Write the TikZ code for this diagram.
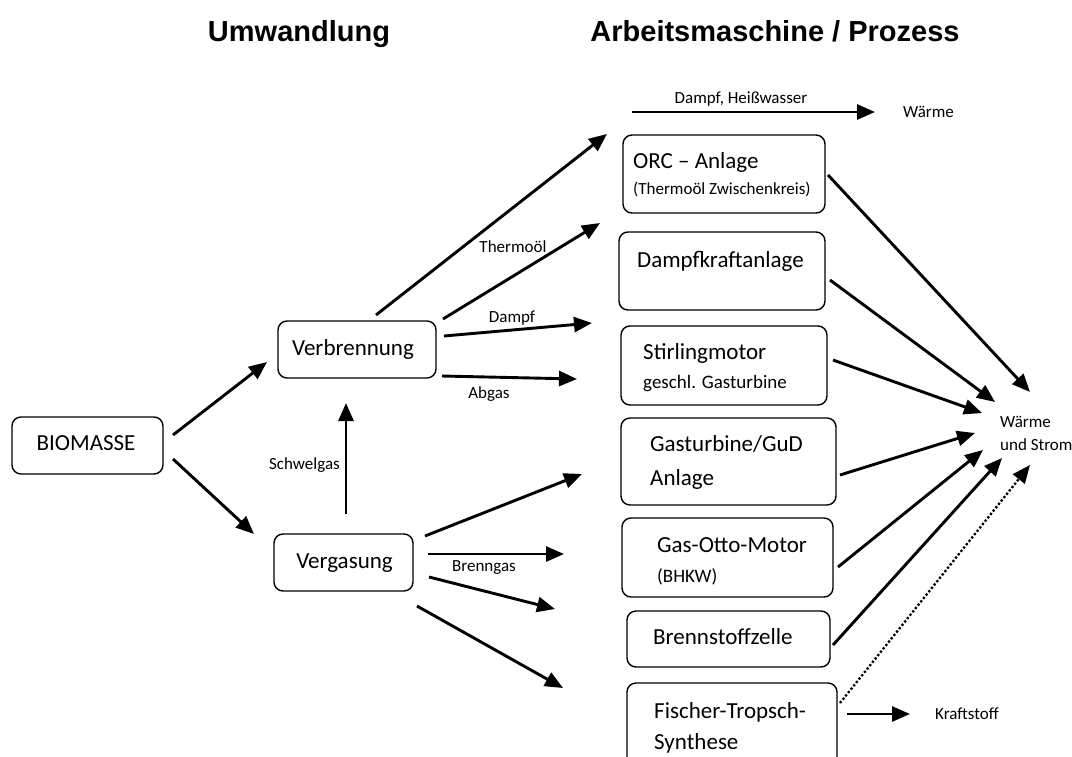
\documentclass[tikz,border=0pt]{standalone}
\usepackage{fontspec}
\setmainfont{Carlito}
\newfontfamily\arialfont{Liberation Sans}
\usetikzlibrary{arrows.meta}
\begin{document}
\begin{tikzpicture}[x=1pt,y=-1pt,
  box/.style={draw, rounded corners=9pt, line width=1.4pt, inner sep=0pt},
  big/.style={font=\fontsize{23}{27}\selectfont, inner sep=0pt},
  med/.style={font=\fontsize{19}{22}\selectfont, inner sep=0pt},
  small/.style={font=\fontsize{17}{20}\selectfont, inner sep=0pt},
  ttl/.style={font=\arialfont\bfseries\fontsize{29}{34}\selectfont, inner sep=0pt},
  arr/.style={line width=2.9pt, -{Triangle[length=18pt,width=15pt]}},
  dotarr/.style={line width=2.3pt, dash pattern=on 2.3pt off 2pt, -{Triangle[length=18pt,width=15pt]}}
]
\useasboundingbox (0,0) rectangle (1072,756);
\clip (0,0) rectangle (1072,756);
\fill[white] (0,0) rectangle (1072,756);

% titles
\node[ttl, anchor=base] (t1) at (299,41) {Umwandlung};
\node[ttl, anchor=base] (t2) at (775,41) {Arbeitsmaschine / Prozess};

% boxes
\node[box, minimum width=151pt, minimum height=57pt] (bio) at (87.5,445.5) {};
\node[box, minimum width=158pt, minimum height=57pt] (verb) at (357,349.5) {};
\node[box, minimum width=139pt, minimum height=57pt] (verg) at (343.5,562.5) {};
\node[box, minimum width=202pt, minimum height=78pt] (orc) at (724,174) {};
\node[box, minimum width=206pt, minimum height=78pt] (dkr) at (722,271) {};
\node[box, minimum width=206pt, minimum height=79pt] (stir) at (724,365.5) {};
\node[box, minimum width=215pt, minimum height=87pt] (gt) at (728.5,461.5) {};
\node[box, minimum width=211pt, minimum height=79pt] (otto) at (727.5,557.5) {};
\node[box, minimum width=203pt, minimum height=56pt] (bz) at (728.5,639) {};
\node[box, minimum width=210pt, minimum height=87pt] (ft) at (732,726.5) {};

% box texts
\node[big, anchor=base] (bioT) at (86,450) {BIOMASSE};
\node[big, anchor=base] (verbT) at (353,355) {Verbrennung};
\node[big, anchor=base] (vergT) at (344.5,568) {Vergasung};
\node[big, anchor=base west] (orcT1) at (633,168) {ORC – Anlage};
\node[small, anchor=base west] (orcT2) at (633,194) {(Thermoöl Zwischenkreis)};
\node[big, anchor=base west] (dkrT) at (637,267) {Dampfkraftanlage};
\node[big, anchor=base west] (stirT1) at (643,359) {Stirlingmotor};
\node[med, anchor=base west] (stirT2) at (643,388) {geschl. Gasturbine};
\node[big, anchor=base west] (gtT1) at (650,451) {Gasturbine/GuD};
\node[big, anchor=base west] (gtT2) at (650,485) {Anlage};
\node[big, anchor=base west] (ottoT1) at (657,552) {Gas-Otto-Motor};
\node[med, anchor=base west] (ottoT2) at (657,582) {(BHKW)};
\node[big, anchor=base west] (bzT) at (653,644) {Brennstoffzelle};
\node[big, anchor=base west] (ftT1) at (654,718) {Fischer-Tropsch-};
\node[big, anchor=base west] (ftT2) at (654,749) {Synthese};

% outputs
\node[small, anchor=base west] (wtop) at (903,117) {Wärme};
\node[small, anchor=base west] (ws1) at (1000,427) {Wärme};
\node[small, anchor=base west] (ws2) at (1000,450) {und Strom};
\node[small, anchor=base west] (kst) at (935,719) {Kraftstoff};

% arrow labels
\node[small, anchor=base] (lDH) at (741,103) {Dampf, Heißwasser};
\node[small, anchor=base] (lTh) at (513,252) {Thermoöl};
\node[small, anchor=base] (lDa) at (512,322) {Dampf};
\node[small, anchor=base] (lAb) at (489,398) {Abgas};
\node[small, anchor=base] (lSw) at (304.5,469) {Schwelgas};
\node[small, anchor=base] (lBr) at (484,571) {Brenngas};

% left arrows
\draw[arr] ([shift={(85.5,-10.5)}]bio.center) -- ([shift={(-90,12.5)}]verb.center);
\draw[arr] ([shift={(85.5,13.5)}]bio.center) -- ([shift={(-89.5,-28.5)}]verg.center);
\draw[arr] ([shift={(2.5,-48.5)}]verg.center) -- ([shift={(-11,53.5)}]verb.center);

% Verbrennung outputs
\draw[arr] ([shift={(19,-34.5)}]verb.center) -- ([shift={(-117,-40)}]orc.center);
\draw[arr] ([shift={(86,-30.5)}]verb.center) -- ([shift={(-122,-48)}]dkr.center);
\draw[arr] ([shift={(87,-13.5)}]verb.center) -- ([shift={(-132,-42.5)}]stir.center);
\draw[arr] ([shift={(85,26.5)}]verb.center) -- ([shift={(-147,13.5)}]stir.center);

% Vergasung outputs
\draw[arr] ([shift={(81.5,-26.5)}]verg.center) -- ([shift={(-146.5,12.5)}]gt.center);
\draw[arr] ([shift={(84.5,-8.5)}]verg.center) -- ([shift={(-163.5,-3.5)}]otto.center);
\draw[arr] ([shift={(85.5,14.5)}]verg.center) -- ([shift={(-173.5,-30)}]bz.center);
\draw[arr] ([shift={(73.5,43.5)}]verg.center) -- ([shift={(-169,-38.5)}]ft.center);

% heat arrow
\draw[arr] ([shift={(-92,-62)}]orc.center) -- ([shift={(-28,-5)}]wtop.base west);

% to Waerme und Strom
\draw[arr] ([shift={(104,1)}]orc.center) -- ([shift={(30,-35)}]ws1.base west);
\draw[arr] ([shift={(108,9)}]dkr.center) -- ([shift={(-5,-25)}]ws1.base west);
\draw[arr] ([shift={(109,-5.5)}]stir.center) -- ([shift={(-18,-14)}]ws1.base west);
\draw[arr] ([shift={(111.5,13.5)}]gt.center) -- ([shift={(-25,6)}]ws1.base west);
\draw[arr] ([shift={(110.5,9.5)}]otto.center) -- ([shift={(-17,23)}]ws1.base west);
\draw[arr] ([shift={(104.5,6)}]bz.center) -- ([shift={(2,31)}]ws1.base west);
\draw[dotarr] ([shift={(108,-23.5)}]ft.center) -- ([shift={(30,38)}]ws1.base west);

% fuel
\draw[arr] ([shift={(115,-12.5)}]ft.center) -- ([shift={(-25,-5)}]kst.base west);
\end{tikzpicture}
\end{document}
